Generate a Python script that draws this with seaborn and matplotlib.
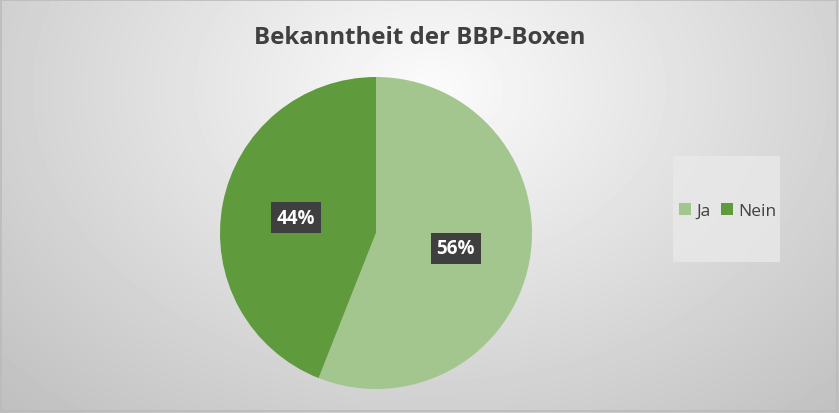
import numpy as np
import matplotlib.pyplot as plt
import seaborn as sns
from matplotlib.patches import Rectangle

sns.set_theme(style="white")
plt.rcParams['font.family'] = ['Open Sans', 'DejaVu Sans']

# data
labels = ['Ja', 'Nein']
values = [56, 44]
colors = ['#A2C68D', '#5F9A3D']
title = 'Bekanntheit der BBP-Boxen'

W, H = 839, 414
fig = plt.figure(figsize=(W / 100, H / 100), dpi=100)

# radial grey background
bg = fig.add_axes([0, 0, 1, 1])
yy, xx = np.mgrid[0:H, 0:W]
d = np.sqrt(((xx - 430) / 520.0) ** 2 + ((yy - 90) / 380.0) ** 2)
shade = np.clip(0.985 - 0.2 * d, 0.74, 1.0)
bg.imshow(shade, cmap='gray', vmin=0, vmax=1, extent=[0, W, H, 0], aspect='auto')
bg.add_patch(Rectangle((1, 1), W - 3, H - 3, fill=False, edgecolor='#BBBBBB', lw=1.2))
bg.set_xlim(0, W)
bg.set_ylim(H, 0)
bg.axis('off')

fig.text(420 / W, 1 - 38 / H, title, ha='center', va='center',
         fontsize=17.3, fontweight='bold', color='#404040')

# pie
cx, cy, r = 376, 234, 156
ax = fig.add_axes([(cx - r) / W, 1 - (cy + r) / H, 2 * r / W, 2 * r / H])
wedges, _ = ax.pie(values, colors=colors, startangle=90, counterclock=False,
                   wedgeprops=dict(linewidth=0))
ax.set_xlim(-1, 1)
ax.set_ylim(-1, 1)
ax.set_aspect('auto')
ax.axis('off')

for w, v in zip(wedges, values):
    ang = np.deg2rad((w.theta1 + w.theta2) / 2)
    x, y = 0.52 * np.cos(ang), 0.52 * np.sin(ang)
    ax.text(x, y, f'{v}%', ha='center', va='center', fontsize=13.5,
            fontweight='bold', color='white',
            bbox=dict(boxstyle='square,pad=0.3', fc='#3F3F3F', ec='none'))

# legend box
bg.add_patch(Rectangle((673, 157), 107, 106, facecolor='#E9E9E9', edgecolor='none', alpha=0.8))
leg = fig.legend(wedges, labels, loc='center', bbox_to_anchor=(728 / W, 1 - 212 / H),
                 ncol=2, frameon=False, fontsize=12.5, handlelength=0.7,
                 handleheight=0.7, handletextpad=0.3, columnspacing=0.6)
for t in leg.get_texts():
    t.set_color('#404040')

fig.savefig('out.png', dpi=100)
